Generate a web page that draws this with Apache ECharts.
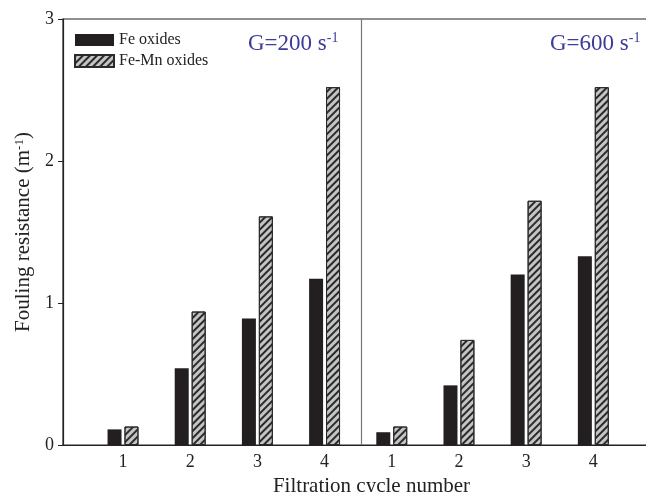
<!DOCTYPE html>
<html>
<head>
<meta charset="utf-8">
<script src="https://cdn.jsdelivr.net/npm/echarts@6/dist/echarts.min.js"></script>
<style>
  html, body { margin: 0; padding: 0; background: #fff; }
  #chart { width: 646px; height: 492px; }
</style>
</head>
<body>
<div id="chart"></div>
<script>
// cycle labels, one group per shear rate
const cycles = ["1", "2", "3", "4"];
const feOxides200 = [0.11, 0.54, 0.89, 1.17];
const feMnOxides200 = [0.13, 0.94, 1.61, 2.52];
const feOxides600 = [0.09, 0.42, 1.2, 1.33];
const feMnOxides600 = [0.13, 0.74, 1.72, 2.52];
const yTicks = [0, 1, 2, 3];

const FONT = "Liberation Serif";

// left group sits at x = 1..4, right group at x = 5..8
function toPoints(left, right) {
  const pts = [];
  left.forEach((v, i) => pts.push([i + 1, v]));
  right.forEach((v, i) => pts.push([i + 5, v]));
  return pts;
}

const chart = echarts.init(document.getElementById("chart"));

const hatch = {
  symbol: "rect",
  color: "#2a2a2a",
  dashArrayX: [1, 0],
  dashArrayY: [2, 3],
  rotation: -Math.PI / 4,
  symbolSize: 1
};

const option = {
  animation: false,
  backgroundColor: "#fff",
  grid: {
    left: 63,
    top: 19,
    width: 617,
    bottom: 47,
    containLabel: false,
    outerBoundsMode: "none",
    show: true,
    borderColor: "#222",
    borderWidth: 1.2
  },
  legend: {
    orient: "vertical",
    left: 74,
    top: 32,
    padding: 0,
    icon: "rect",
    itemWidth: 39,
    itemHeight: 12,
    itemGap: 5,
    textStyle: { fontFamily: FONT, fontSize: 16, color: "#222" },
    data: ["Fe oxides", "Fe-Mn oxides"]
  },
  xAxis: {
    type: "value",
    min: 0.107,
    max: 9.29,
    name: "Filtration cycle number",
    nameLocation: "middle",
    nameGap: 23,
    nameTextStyle: { fontFamily: FONT, fontSize: 21, color: "#222" },
    axisLine: { show: true, lineStyle: { color: "#222", width: 1.2 } },
    axisTick: { show: false },
    splitLine: { show: false },
    axisLabel: {
      customValues: [1, 2, 3, 4, 5, 6, 7, 8],
      formatter: v => cycles[(v - 1) % 4],
      fontFamily: FONT,
      fontSize: 18,
      color: "#222",
      margin: 8
    }
  },
  yAxis: {
    type: "value",
    min: 0,
    max: 3,
    interval: 1,
    name: "{n|Fouling resistance (m}{s|-1}{n|)}",
    nameLocation: "middle",
    nameGap: 27,
    nameTextStyle: {
      rich: {
        n: { fontFamily: FONT, fontSize: 21, color: "#222" },
        s: { fontFamily: FONT, fontSize: 13, color: "#222", verticalAlign: "top", padding: [0, 0, 9, 0] }
      }
    },
    axisLine: { show: true, lineStyle: { color: "#222", width: 1.2 } },
    axisTick: { show: true, inside: false, length: 5, lineStyle: { color: "#222" } },
    splitLine: { show: false },
    axisLabel: {
      customValues: yTicks,
      fontFamily: FONT,
      fontSize: 18,
      color: "#222",
      margin: 9
    }
  },
  series: [
    {
      name: "Fe oxides",
      type: "bar",
      barWidth: 14,
      barGap: "21%",
      itemStyle: { color: "#231f20" },
      data: toPoints(feOxides200, feOxides600)
    },
    {
      name: "Fe-Mn oxides",
      type: "bar",
      barWidth: 14,
      barGap: "21%",
      itemStyle: {
        color: "#c4c4c4",
        borderColor: "#2a2a2a",
        borderWidth: 1,
        decal: hatch
      },
      data: toPoints(feMnOxides200, feMnOxides600)
    },
    {
      // panel divider between the two shear rates
      name: "divider",
      type: "line",
      data: [],
      silent: true,
      markLine: {
        silent: true,
        symbol: "none",
        label: { show: false },
        lineStyle: { color: "#777", width: 1.2, type: "solid" },
        data: [{ xAxis: 4.535 }]
      }
    }
  ],
  graphic: [
    {
      type: "text",
      left: 248,
      top: 31,
      style: {
        text: "{g|G=200 s}{s|-1}",
        rich: {
          g: { fontFamily: FONT, fontSize: 23, fill: "#3b3b98" },
          s: { fontFamily: FONT, fontSize: 14, fill: "#3b3b98", verticalAlign: "top", padding: [0, 0, 11, 0] }
        }
      }
    },
    {
      type: "text",
      left: 550,
      top: 31,
      style: {
        text: "{g|G=600 s}{s|-1}",
        rich: {
          g: { fontFamily: FONT, fontSize: 23, fill: "#3b3b98" },
          s: { fontFamily: FONT, fontSize: 14, fill: "#3b3b98", verticalAlign: "top", padding: [0, 0, 11, 0] }
        }
      }
    }
  ]
};

chart.setOption(option);
</script>
</body>
</html>
